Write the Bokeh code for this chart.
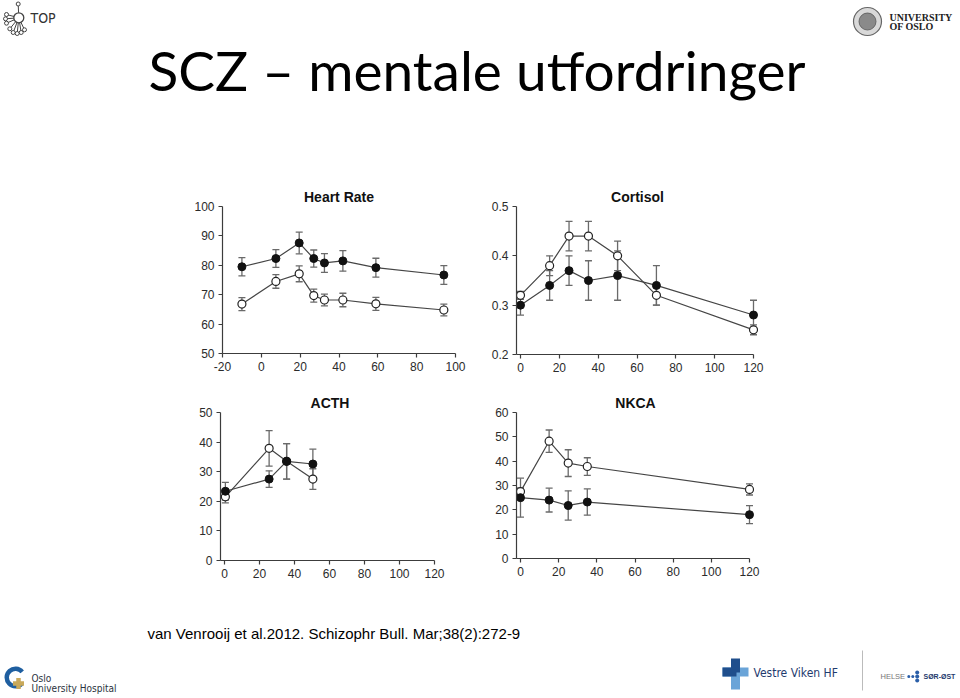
from bokeh.plotting import figure
from bokeh.layouts import column, row
from bokeh.models import Range1d, FixedTicker, Whisker, ColumnDataSource, TeeHead
from bokeh.core.properties import value
from bokeh.embed import file_html
from bokeh.resources import INLINE

# ---------------- data ----------------
slide_title = "SCZ – mentale utfordringer"
citation = "van Venrooij et al.2012. Schizophr Bull. Mar;38(2):272-9"

hr_title = "Heart Rate"
hr_x = [-10, 7.5, 19.5, 27, 32.5, 42, 59, 94]
hr_filled = [79.5, 82.3, 87.6, 82.3, 80.8, 81.5, 79.2, 76.7]
hr_filled_err = [3.1, 3.0, 3.7, 2.9, 3.2, 3.5, 3.2, 3.2]
hr_open = [66.8, 74.5, 77.1, 69.7, 68.2, 68.2, 66.9, 64.8]
hr_open_err = [2.2, 2.3, 2.7, 2.2, 2.0, 2.3, 2.2, 2.0]
hr_xticks = [-20, 0, 20, 40, 60, 80, 100]
hr_yticks = [50, 60, 70, 80, 90, 100]

cort_title = "Cortisol"
cort_x = [0, 15, 25, 35, 50, 70, 120]
cort_filled = [0.30, 0.34, 0.37, 0.35, 0.36, 0.34, 0.28]
cort_filled_err = [0.02, 0.03, 0.03, 0.04, 0.05, 0.04, 0.03]
cort_open = [0.32, 0.38, 0.44, 0.44, 0.40, 0.32, 0.25]
cort_open_err = [0.008, 0.02, 0.03, 0.03, 0.03, 0.02, 0.01]
cort_xticks = [0, 20, 40, 60, 80, 100, 120]
cort_yticks = [0.2, 0.3, 0.4, 0.5]

acth_title = "ACTH"
acth_x = [0.5, 25.5, 35.5, 50.5]
acth_filled = [23.4, 27.5, 33.5, 32.6]
acth_filled_err = [3.0, 2.8, 6.0, 5.0]
acth_open = [21.5, 37.9, 33.5, 27.5]
acth_open_err = [2.0, 6.0, 6.0, 3.5]
acth_xticks = [0, 20, 40, 60, 80, 100, 120]
acth_yticks = [0, 10, 20, 30, 40, 50]

nkca_title = "NKCA"
nkca_x = [0, 15, 25, 35, 120]
nkca_filled = [25.0, 24.0, 21.8, 23.2, 18.0]
nkca_filled_err = [8.0, 4.9, 6.0, 5.4, 3.7]
nkca_open = [27.5, 48.2, 39.2, 37.8, 28.4]
nkca_open_err = [1.5, 4.6, 5.5, 3.6, 2.3]
nkca_xticks = [0, 20, 40, 60, 80, 100, 120]
nkca_yticks = [0, 10, 20, 30, 40, 50, 60]

# ---------------- styles ----------------
AX = "#3c3c3c"
ERR = "#6a6a6a"
LINE = "#454545"
TICK_FONT = "Liberation Sans"
COND = "DejaVu Sans Condensed"
W = 960


def make_panel(title, x, f, fe, o, oe, xticks, yticks,
               x0_px, x1_px, pad_l, pad_r, frame_top, frame_h, fig_left, fig_w, row_h):
    x0, x1 = xticks[0], xticks[-1]
    y0, y1 = yticks[0], yticks[-1]
    scale = (x1_px - x0_px) / (x1 - x0)
    frame_left = x0_px - pad_l
    frame_w = (x1_px - x0_px) + pad_l + pad_r
    xs = x0 - pad_l / scale
    p = figure(frame_width=frame_w, frame_height=frame_h,
               x_range=Range1d(xs, x1 + pad_r / scale),
               y_range=Range1d(y0, y1),
               min_border_left=frame_left - fig_left,
               min_border_right=fig_w - (frame_left - fig_left) - frame_w,
               min_border_top=frame_top,
               min_border_bottom=row_h - frame_top - frame_h,
               toolbar_location=None, output_backend="svg", title=title)
    p.title.align = "center"
    p.title.text_font = TICK_FONT
    p.title.text_font_size = "14px"
    p.title.text_font_style = "bold"
    p.title.text_color = "#111111"
    p.title.standoff = 4
    p.xgrid.visible = False
    p.ygrid.visible = False
    p.outline_line_color = None
    p.background_fill_color = "white"
    p.border_fill_color = "white"
    for ax in (p.xaxis[0], p.yaxis[0]):
        ax.axis_line_color = AX
        ax.axis_line_width = 1.2
        ax.major_tick_line_color = AX
        ax.major_tick_line_width = 1.2
        ax.major_tick_out = 4
        ax.major_tick_in = 0
        ax.minor_tick_line_color = None
        ax.major_label_text_font = TICK_FONT
        ax.major_label_text_font_size = "12px"
        ax.major_label_text_color = "#2b2b2b"
        ax.major_label_standoff = 4
    p.xaxis.ticker = FixedTicker(ticks=xticks)
    p.yaxis.ticker = FixedTicker(ticks=yticks)
    p.xaxis.major_label_overrides = {t: str(t) for t in xticks}
    p.yaxis.major_label_overrides = {t: str(t) for t in yticks}
    p.xaxis.bounds = (xs, x1)

    for ys, es in ((o, oe), (f, fe)):
        src = ColumnDataSource(dict(x=x, y=ys,
                                    upper=[a + b for a, b in zip(ys, es)],
                                    lower=[a - b for a, b in zip(ys, es)]))
        wk = Whisker(source=src, base="x", upper="upper", lower="lower",
                     line_color=ERR, line_width=1.3,
                     upper_head=TeeHead(size=7, line_color=ERR, line_width=1.3),
                     lower_head=TeeHead(size=7, line_color=ERR, line_width=1.3))
        p.add_layout(wk)
    p.line(x, o, line_color=LINE, line_width=1.2)
    p.line(x, f, line_color=LINE, line_width=1.2)
    p.scatter(x, o, marker="circle", size=8, fill_color="white",
              line_color="#222222", line_width=1.2)
    p.scatter(x, f, marker="circle", size=8, fill_color="#111111",
              line_color="#111111", line_width=1)
    return p


def canvas(h):
    p = figure(width=W, height=h, x_range=Range1d(0, W), y_range=Range1d(h, 0),
               x_axis_type=None, y_axis_type=None, min_border=0,
               toolbar_location=None, output_backend="svg")
    p.xgrid.visible = False
    p.ygrid.visible = False
    p.outline_line_color = None
    p.background_fill_color = "white"
    p.border_fill_color = "white"
    return p


# ---------------- header ----------------
HDR_H = 178
hdr = canvas(HDR_H)
hdr.text(x=[148], y=[69], text=[slide_title], text_font=value("Lato"),
         text_font_size="55px", text_color="black", text_baseline="alphabetic")
# TOP logo
nodes_x = [17.7, 6, 5, 6, 9.3, 12.7, 16.7, 20.7, 24]
nodes_y = [3.5, 14, 18.3, 22.7, 28.3, 32, 33, 32, 29.3]
hdr.segment(x0=[18.3] * 9, y0=[17.3] * 9, x1=nodes_x, y1=nodes_y, line_color="#444", line_width=1)
hdr.scatter(x=[18.3], y=[17.3], size=10, fill_color="white", line_color="#444", line_width=1.3)
hdr.scatter(x=nodes_x, y=nodes_y, size=4, fill_color="white", line_color="#444", line_width=1)
hdr.text(x=[30], y=[17], text=["TOP"], text_font=value(COND), text_font_size="14px",
         text_color="#333", text_baseline="alphabetic")
# UiO logo
hdr.scatter(x=[867], y=[21], size=28, fill_color="#d9d9d9", line_color="#666", line_width=1.2)
hdr.scatter(x=[867], y=[21], size=17, fill_color="#8a8a8a", line_color="#555", line_width=0.8)
hdr.text(x=[889, 889], y=[17, 26], text=["UNIVERSITY", "OF OSLO"],
         text_font=value("Liberation Serif"), text_font_style="bold",
         text_font_size="10px", text_color="#222", text_baseline="alphabetic")

# ---------------- panels ----------------
p_hr = make_panel(hr_title, hr_x, hr_filled, hr_filled_err, hr_open, hr_open_err,
                  hr_xticks, hr_yticks, x0_px=222, x1_px=455, pad_l=0, pad_r=0,
                  frame_top=28, frame_h=147, fig_left=0, fig_w=478, row_h=200)
p_co = make_panel(cort_title, cort_x, cort_filled, cort_filled_err, cort_open, cort_open_err,
                  cort_xticks, cort_yticks, x0_px=520, x1_px=753, pad_l=4, pad_r=5,
                  frame_top=27, frame_h=148, fig_left=478, fig_w=482, row_h=200)
p_ac = make_panel(acth_title, acth_x, acth_filled, acth_filled_err, acth_open, acth_open_err,
                  acth_xticks, acth_yticks, x0_px=224, x1_px=434, pad_l=4, pad_r=5,
                  frame_top=32, frame_h=148, fig_left=0, fig_w=478, row_h=205)
p_nk = make_panel(nkca_title, nkca_x, nkca_filled, nkca_filled_err, nkca_open, nkca_open_err,
                  nkca_xticks, nkca_yticks, x0_px=520, x1_px=749, pad_l=4, pad_r=5,
                  frame_top=34, frame_h=146, fig_left=478, fig_w=482, row_h=205)

# ---------------- footer ----------------
FTR_H = 115
ftr = canvas(FTR_H)
ftr.text(x=[147], y=[50], text=[citation], text_font=value("Liberation Sans"),
         text_font_size="15px", text_color="black", text_baseline="alphabetic")
# Oslo University Hospital
ftr.annular_wedge(x=[15], y=[94], inner_radius=6.5, outer_radius=11,
                  start_angle=0.7, end_angle=5.5, fill_color="#1f5fa0", line_color=None)
ftr.rect(x=[18, 18], y=[100, 100], width=[4.5, 11], height=[11, 4.5],
         fill_color="#c9a95a", line_color=None)
ftr.text(x=[31, 31], y=[95, 105], text=["Oslo", "University Hospital"],
         text_font=value(COND), text_font_size="10px", text_color="#2a3340",
         text_baseline="alphabetic")
# Vestre Viken HF
ftr.rect(x=[735], y=[92], width=[9], height=[28], fill_color="#6aa4d8", line_color=None)
ftr.rect(x=[735], y=[88.5], width=[26], height=[9], fill_color="#6aa4d8", line_color=None)
ftr.rect(x=[729, 735], y=[88.5, 82], width=[14, 9], height=[9, 14],
         fill_color="#1f4e8c", line_color=None)
ftr.text(x=[753], y=[89], text=["Vestre Viken HF"], text_font=value(COND),
         text_font_size="12px", text_color="#1f3b6e", text_baseline="alphabetic")
ftr.segment(x0=[862], y0=[67], x1=[862], y1=[107], line_color="#bbbbbb", line_width=1)
# Helse Sør-Øst
ftr.text(x=[880], y=[93], text=["HELSE"], text_font=value("Liberation Sans"),
         text_font_size="7.5px", text_color="#777", text_baseline="alphabetic")
ftr.scatter(x=[908.3, 912.3, 916.7, 916.7, 916.7], y=[93, 93, 89, 93, 97],
            size=[3, 3, 4, 4, 4], fill_color="#2a5ea8", line_color=None)
ftr.text(x=[923], y=[93], text=["SØR-ØST"], text_font=value("Liberation Sans"),
         text_font_style="bold", text_font_size="7px", text_color="#1f3b6e",
         text_baseline="alphabetic")

layout = column(hdr, row(p_hr, p_co), row(p_ac, p_nk), ftr)
open("out.html", "w").write(file_html(layout, INLINE))
